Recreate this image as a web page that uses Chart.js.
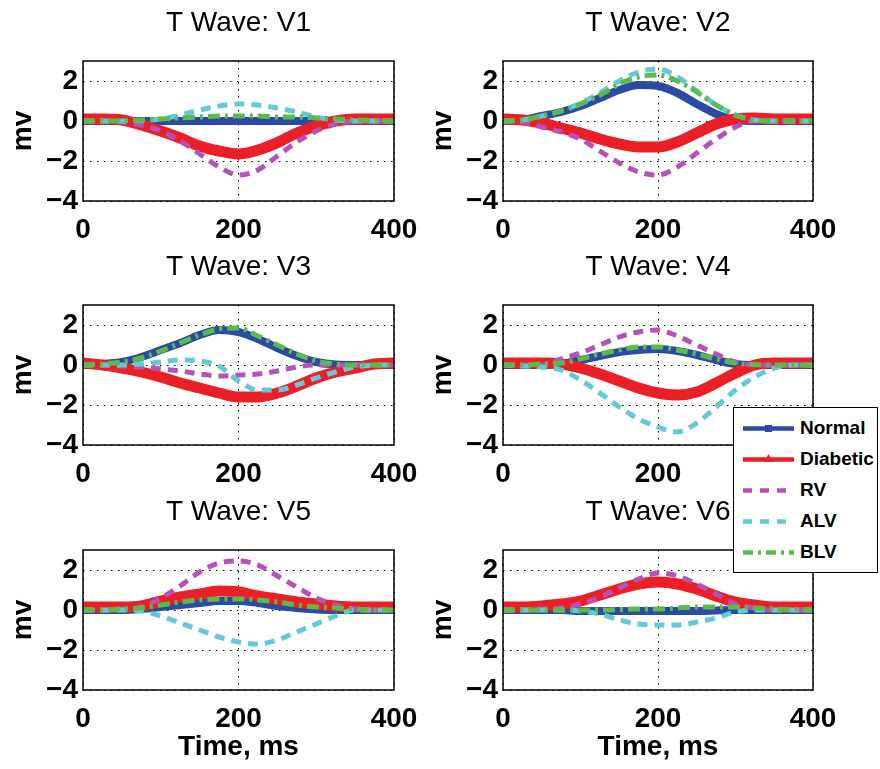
<!DOCTYPE html>
<html>
<head>
<meta charset="utf-8">
<script src="https://cdn.jsdelivr.net/npm/chart.js"></script>
<style>
  body { margin: 0; background: #fff; }
  #wrap { position: relative; width: 880px; height: 769px; overflow: hidden; }
  canvas { position: absolute; }
  #legend {
    position: absolute; left: 733px; top: 407px; width: 143px; height: 160px;
    border: 1.5px solid #000; background: #fff; padding-top: 4px; z-index: 5;
    font: bold 19px "Liberation Sans", Arial, sans-serif; color: #000;
  }
  #legend .row { height: 31px; display: flex; align-items: center; padding-left: 9px; }
  #legend svg { margin-right: 6px; }
</style>
</head>
<body>
<div id="wrap">
  <canvas id="v1" width="440" height="250" style="left:0;top:0"></canvas>
  <canvas id="v2" width="460" height="250" style="left:420px;top:0"></canvas>
  <canvas id="v3" width="440" height="250" style="left:0;top:244px"></canvas>
  <canvas id="v4" width="460" height="250" style="left:420px;top:244px"></canvas>
  <canvas id="v5" width="440" height="280" style="left:0;top:489px"></canvas>
  <canvas id="v6" width="460" height="280" style="left:420px;top:489px"></canvas>
  <div id="legend"></div>
</div>
<script>
'use strict';

// ***** DATA *****
let times = [0, 25, 50, 75, 100, 125, 150, 175, 200, 225, 250, 275, 300, 325, 350, 375, 400];
let seriesNames = ['Normal', 'Diabetic', 'RV', 'ALV', 'BLV'];
let xTicks = [0, 200, 400];
let yTicks = [-4, -2, 0, 2];

let v1Normal   = [0, 0, 0, 0, 0, 0, 0, 0, 0, 0, 0, 0, 0, 0, 0, 0, 0];
let v1Diabetic = [0.1, 0.1, 0.05, -0.2, -0.5, -0.85, -1.25, -1.5, -1.65, -1.45, -1.08, -0.6, -0.25, 0, 0.1, 0.1, 0.1];
let v1RV       = [0, 0, -0.05, -0.2, -0.5, -1.0, -1.65, -2.3, -2.7, -2.45, -1.75, -1.05, -0.5, -0.15, 0, 0, 0];
let v1ALV      = [0, 0, 0, 0.02, 0.1, 0.3, 0.55, 0.75, 0.85, 0.8, 0.65, 0.45, 0.2, 0.05, 0, 0, 0];
let v1BLV      = [0, 0, 0.02, 0.05, 0.1, 0.15, 0.2, 0.25, 0.25, 0.25, 0.2, 0.2, 0.15, 0.1, 0.05, 0.02, 0];

let v2Normal   = [0, 0.05, 0.25, 0.45, 0.75, 1.15, 1.55, 1.8, 1.75, 1.4, 0.85, 0.35, 0.05, 0, 0, 0, 0];
let v2Diabetic = [0.1, 0.05, -0.1, -0.35, -0.6, -0.9, -1.15, -1.3, -1.3, -1.05, -0.6, -0.15, 0.1, 0.15, 0.1, 0.1, 0.1];
let v2RV       = [0, -0.05, -0.3, -0.55, -0.9, -1.5, -2.1, -2.55, -2.7, -2.3, -1.6, -0.9, -0.3, 0, 0, 0, 0];
let v2ALV      = [0, 0.05, 0.25, 0.5, 0.9, 1.4, 2.0, 2.45, 2.6, 2.2, 1.5, 0.8, 0.3, 0.05, 0, 0, 0];
let v2BLV      = [0, 0.05, 0.25, 0.5, 0.85, 1.3, 1.85, 2.2, 2.3, 2.0, 1.45, 0.8, 0.3, 0.05, 0, 0, 0];

let v3Normal   = [0, 0.05, 0.15, 0.4, 0.75, 1.1, 1.5, 1.75, 1.65, 1.3, 0.85, 0.45, 0.15, 0.02, 0, 0, 0];
let v3Diabetic = [0.1, 0, -0.15, -0.35, -0.6, -0.9, -1.15, -1.4, -1.6, -1.6, -1.4, -1.05, -0.65, -0.35, -0.15, 0.05, 0.1];
let v3RV       = [0, 0, -0.05, -0.1, -0.2, -0.3, -0.45, -0.55, -0.5, -0.45, -0.3, -0.1, 0, 0, 0, 0, 0];
let v3ALV      = [0, 0, 0, 0.05, 0.15, 0.25, 0.2, -0.05, -0.8, -1.25, -1.25, -1.0, -0.65, -0.35, -0.1, 0, 0];
let v3BLV      = [0, 0.05, 0.15, 0.35, 0.7, 1.1, 1.5, 1.8, 1.85, 1.45, 1.0, 0.55, 0.2, 0.05, 0, 0, 0];

let v4Normal   = [0, 0, 0, 0.05, 0.25, 0.45, 0.65, 0.75, 0.8, 0.7, 0.5, 0.25, 0.05, 0, 0, 0, 0];
let v4Diabetic = [0.1, 0.1, 0.1, 0.05, -0.15, -0.45, -0.8, -1.15, -1.4, -1.5, -1.35, -0.9, -0.4, 0, 0.1, 0.1, 0.1];
let v4RV       = [0, 0, 0, 0.3, 0.6, 1.0, 1.4, 1.65, 1.75, 1.45, 1.0, 0.55, 0.15, 0, 0, 0, 0];
let v4ALV      = [0, -0.05, -0.1, -0.25, -0.75, -1.4, -2.1, -2.7, -3.1, -3.35, -2.9, -2.1, -1.25, -0.6, -0.15, 0, 0];
let v4BLV      = [0, 0, 0.05, 0.1, 0.3, 0.55, 0.75, 0.9, 0.9, 0.75, 0.55, 0.3, 0.1, 0.02, 0, 0, 0];

let v5Normal   = [0, 0, 0, 0.05, 0.15, 0.25, 0.35, 0.45, 0.45, 0.35, 0.2, 0.1, 0.02, 0, 0, 0, 0];
let v5Diabetic = [0.15, 0.15, 0.15, 0.2, 0.45, 0.65, 0.8, 0.95, 0.9, 0.7, 0.55, 0.4, 0.3, 0.2, 0.15, 0.15, 0.15];
let v5RV       = [0, 0, 0.05, 0.15, 0.6, 1.2, 1.9, 2.35, 2.45, 2.25, 1.7, 1.15, 0.6, 0.25, 0.05, 0, 0];
let v5ALV      = [0, 0, 0, -0.05, -0.3, -0.65, -1.0, -1.35, -1.6, -1.7, -1.5, -1.1, -0.7, -0.3, 0, 0, 0];
let v5BLV      = [0, 0, 0.05, 0.1, 0.25, 0.4, 0.5, 0.55, 0.55, 0.5, 0.4, 0.25, 0.15, 0.1, 0.05, 0, 0];

let v6Normal   = [0, 0, 0, 0, -0.05, -0.05, -0.05, -0.05, -0.05, -0.05, -0.05, -0.02, 0, 0, 0, 0, 0];
let v6Diabetic = [0.15, 0.15, 0.2, 0.3, 0.45, 0.75, 1.05, 1.3, 1.4, 1.3, 1.05, 0.7, 0.4, 0.25, 0.15, 0.15, 0.15];
let v6RV       = [0, 0, 0.05, 0.1, 0.3, 0.65, 1.1, 1.55, 1.85, 1.7, 1.3, 0.8, 0.3, 0.1, 0, 0, 0];
let v6ALV      = [0, 0, 0, 0, -0.05, -0.2, -0.5, -0.7, -0.75, -0.75, -0.6, -0.4, -0.1, 0, 0, 0, 0];
let v6BLV      = [0, 0, 0, 0, 0, 0, 0.02, 0.05, 0.05, 0.1, 0.15, 0.15, 0.15, 0.1, 0.05, 0.02, 0];

// ***** STYLES *****
let FONT = '"Liberation Sans", Arial, sans-serif';
let styles = [
  { color: '#2b4aa3', width: 8, dash: [] },
  { color: '#ec1e26', width: 11, dash: [] },
  { color: '#b551b9', width: 5, dash: [10, 7] },
  { color: '#62c9d9', width: 5, dash: [10, 7] },
  { color: '#5cba4a', width: 5, dash: [12, 5, 3, 5] }
];

// draw the full matlab-like box round the plot area
let boxPlugin = {
  id: 'box',
  afterDraw(chart) {
    let a = chart.chartArea;
    let c = chart.ctx;
    c.save();
    c.strokeStyle = '#000';
    c.lineWidth = 1.5;
    c.strokeRect(a.left, a.top, a.right - a.left, a.bottom - a.top);
    c.restore();
  }
};

function toPoints(values) {
  return values.map((v, i) => ({ x: times[i], y: v }));
}

function minusLabel(v) {
  return v < 0 ? '\u2212' + Math.abs(v) : String(v);
}

// **** CHART BUILDER ****
function makeChart(id, title, lists, isRight, isBottom) {
  let datasets = lists.map((vals, i) => ({
    label: seriesNames[i],
    data: toPoints(vals),
    borderColor: styles[i].color,
    backgroundColor: styles[i].color,
    borderWidth: styles[i].width,
    borderDash: styles[i].dash,
    pointRadius: 0,
    cubicInterpolationMode: 'monotone',
    order: lists.length - i
  }));

  new Chart(document.getElementById(id), {
    type: 'line',
    data: { datasets: datasets },
    options: {
      responsive: false,
      animation: false,
      layout: { padding: { left: 0, top: 0, right: isRight ? 67 : 46, bottom: isBottom ? 0 : 9 } },
      plugins: {
        legend: { display: false },
        tooltip: { enabled: false },
        title: {
          display: true,
          text: title,
          fullSize: false,
          color: '#000',
          font: { family: FONT, size: 28, weight: 'normal', lineHeight: 1.2 },
          padding: { top: 6, bottom: 21.4 }
        }
      },
      scales: {
        x: {
          type: 'linear',
          min: xTicks[0],
          max: xTicks[xTicks.length - 1],
          afterFit(scale) { scale.height = isBottom ? 79 : 40; },
          afterBuildTicks(scale) { scale.ticks = xTicks.map(v => ({ value: v })); },
          ticks: { color: '#000', padding: 12, maxRotation: 0, font: { family: FONT, size: 28, weight: 'bold' } },
          grid: { color: '#000', lineWidth: 1, drawTicks: false },
          border: { display: false, dash: [1.5, 5.5] },
          title: {
            display: isBottom,
            text: 'Time, ms',
            color: '#000',
            padding: { top: 0, bottom: 5 },
            font: { family: FONT, size: 28, weight: 'bold', lineHeight: 1.2 }
          }
        },
        y: {
          min: -4,
          max: 3,
          afterFit(scale) { scale.width = 83; },
          afterBuildTicks(scale) { scale.ticks = yTicks.map(v => ({ value: v })); },
          ticks: { color: '#000', padding: 5, callback: minusLabel, font: { family: FONT, size: 28, weight: 'bold' } },
          grid: { color: '#000', lineWidth: 1, drawTicks: false },
          border: { display: false, dash: [1.5, 5.5] },
          title: {
            display: true,
            text: 'mv',
            color: '#000',
            padding: { top: 6, bottom: 0 },
            font: { family: FONT, size: 28, weight: 'bold', lineHeight: 1.2 }
          }
        }
      }
    },
    plugins: [boxPlugin]
  });
}

makeChart('v1', 'T Wave: V1', [v1Normal, v1Diabetic, v1RV, v1ALV, v1BLV], false, false);
makeChart('v2', 'T Wave: V2', [v2Normal, v2Diabetic, v2RV, v2ALV, v2BLV], true, false);
makeChart('v3', 'T Wave: V3', [v3Normal, v3Diabetic, v3RV, v3ALV, v3BLV], false, false);
makeChart('v4', 'T Wave: V4', [v4Normal, v4Diabetic, v4RV, v4ALV, v4BLV], true, false);
makeChart('v5', 'T Wave: V5', [v5Normal, v5Diabetic, v5RV, v5ALV, v5BLV], false, true);
makeChart('v6', 'T Wave: V6', [v6Normal, v6Diabetic, v6RV, v6ALV, v6BLV], true, true);

// **** LEGEND ****
let legendBox = document.getElementById('legend');
seriesNames.forEach((name, i) => {
  let s = styles[i];
  let dash = i === 2 || i === 3 ? '9 8' : (i === 4 ? '10 5 3 5' : '');
  let marker = '';
  if (i === 0) marker = '<rect x="22" y="3" width="7" height="7" fill="' + s.color + '"/>';
  if (i === 1) marker = '<polygon points="25.5,1 30,9 21,9" fill="' + s.color + '"/>';
  let row = document.createElement('div');
  row.className = 'row';
  row.innerHTML = '<svg width="51" height="12"><line x1="0" y1="6.5" x2="51" y2="6.5" stroke="' + s.color +
    '" stroke-width="4.5" stroke-dasharray="' + dash + '"/>' + marker + '</svg><span>' + name + '</span>';
  legendBox.appendChild(row);
});
</script>
</body>
</html>
